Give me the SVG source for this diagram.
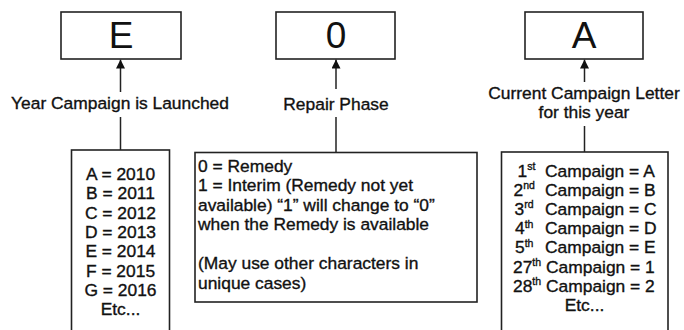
<svg xmlns="http://www.w3.org/2000/svg" width="684" height="330" viewBox="0 0 684 330">
  <defs>
    <marker id="arrow" markerUnits="userSpaceOnUse" markerWidth="9" markerHeight="9" viewBox="0 0 9 9" refX="9" refY="4.5" orient="auto">
      <path d="M0,0 L9,4.5 L0,9 Z" fill="#111"/>
    </marker>
    <style>
      .box { fill: #fff; stroke: #222; stroke-width: 1.6; }
      .conn { stroke: #222; stroke-width: 1.5; fill: none; }
      text { font-family: "Liberation Sans", Arial, sans-serif; fill: #111; }
      .big { font-size: 37px; text-anchor: middle; }
      .lbl { font-size: 17.4px; text-anchor: middle; stroke: #111; stroke-width: 0.35; }
      .body { font-size: 17.4px; stroke: #111; stroke-width: 0.35; }
      .mid { text-anchor: middle; }
      .sup { font-size: 10.5px; }
    </style>
  </defs>
  <rect width="684" height="330" fill="#fff"/>

  <g id="connectors">
    <line class="conn" x1="120.5" y1="92" x2="120.5" y2="59.5" marker-end="url(#arrow)"/>
    <line class="conn" x1="120.5" y1="117" x2="120.5" y2="150"/>
    <line class="conn" x1="336" y1="89" x2="336" y2="59.5" marker-end="url(#arrow)"/>
    <line class="conn" x1="336" y1="117" x2="336" y2="152"/>
    <line class="conn" x1="584.5" y1="82" x2="584.5" y2="59.5" marker-end="url(#arrow)"/>
    <line class="conn" x1="584.5" y1="126" x2="584.5" y2="152"/>
  </g>

  <g id="labels">
    <text class="lbl" x="120" y="109">Year Campaign is Launched</text>
    <text class="lbl" x="336" y="110">Repair Phase</text>
    <text class="lbl" x="584" y="99">Current Campaign Letter</text>
    <text class="lbl" x="584" y="118">for this year</text>
  </g>

  <g id="node-E">
    <rect class="box" x="61" y="12" width="120" height="47"/>
    <text class="big" x="121" y="47.5">E</text>
  </g>

  <g id="node-0">
    <rect class="box" x="276" y="12" width="119" height="47"/>
    <text class="big" x="336" y="47.5">0</text>
  </g>

  <g id="node-A">
    <rect class="box" x="525" y="12" width="118" height="47"/>
    <text class="big" x="584" y="47.5">A</text>
  </g>

  <g id="node-years">
    <rect class="box" x="71.5" y="150" width="98" height="190"/>
    <text class="body mid" x="120.5" y="180">A = 2010</text>
    <text class="body mid" x="120.5" y="199.3">B = 2011</text>
    <text class="body mid" x="120.5" y="218.6">C = 2012</text>
    <text class="body mid" x="120.5" y="237.9">D = 2013</text>
    <text class="body mid" x="120.5" y="257.2">E = 2014</text>
    <text class="body mid" x="120.5" y="276.5">F = 2015</text>
    <text class="body mid" x="120.5" y="295.8">G = 2016</text>
    <text class="body mid" x="120.5" y="315">Etc...</text>
  </g>

  <g id="node-phase">
    <rect class="box" x="195" y="152.5" width="282" height="149.5"/>
    <text class="body" x="198" y="171.5">0 = Remedy</text>
    <text class="body" x="198" y="191">1 = Interim (Remedy not yet</text>
    <text class="body" x="198" y="210.5">available) “1” will change to “0”</text>
    <text class="body" x="198" y="230">when the Remedy is available</text>
    <text class="body" x="198" y="269">(May use other characters in</text>
    <text class="body" x="198" y="288.5">unique cases)</text>
  </g>

  <g id="node-letters">
    <rect class="box" x="501.5" y="152" width="166.5" height="190"/>
    <text class="body" x="517.5" y="176.5">1<tspan class="sup" dy="-6.5">st</tspan><tspan x="545" dy="6.5">Campaign = A</tspan></text>
    <text class="body" x="513.5" y="195.7">2<tspan class="sup" dy="-6.5">nd</tspan><tspan x="545" dy="6.5">Campaign = B</tspan></text>
    <text class="body" x="514.5" y="214.9">3<tspan class="sup" dy="-6.5">rd</tspan><tspan x="545" dy="6.5">Campaign = C</tspan></text>
    <text class="body" x="515" y="234.1">4<tspan class="sup" dy="-6.5">th</tspan><tspan x="545" dy="6.5">Campaign = D</tspan></text>
    <text class="body" x="515" y="253.3">5<tspan class="sup" dy="-6.5">th</tspan><tspan x="545" dy="6.5">Campaign = E</tspan></text>
    <text class="body" x="513" y="272.5">27<tspan class="sup" dy="-6.5">th</tspan><tspan x="546" dy="6.5">Campaign = 1</tspan></text>
    <text class="body" x="513" y="291.7">28<tspan class="sup" dy="-6.5">th</tspan><tspan x="546" dy="6.5">Campaign = 2</tspan></text>
    <text class="body mid" x="584.5" y="310.5">Etc...</text>
  </g>
</svg>
